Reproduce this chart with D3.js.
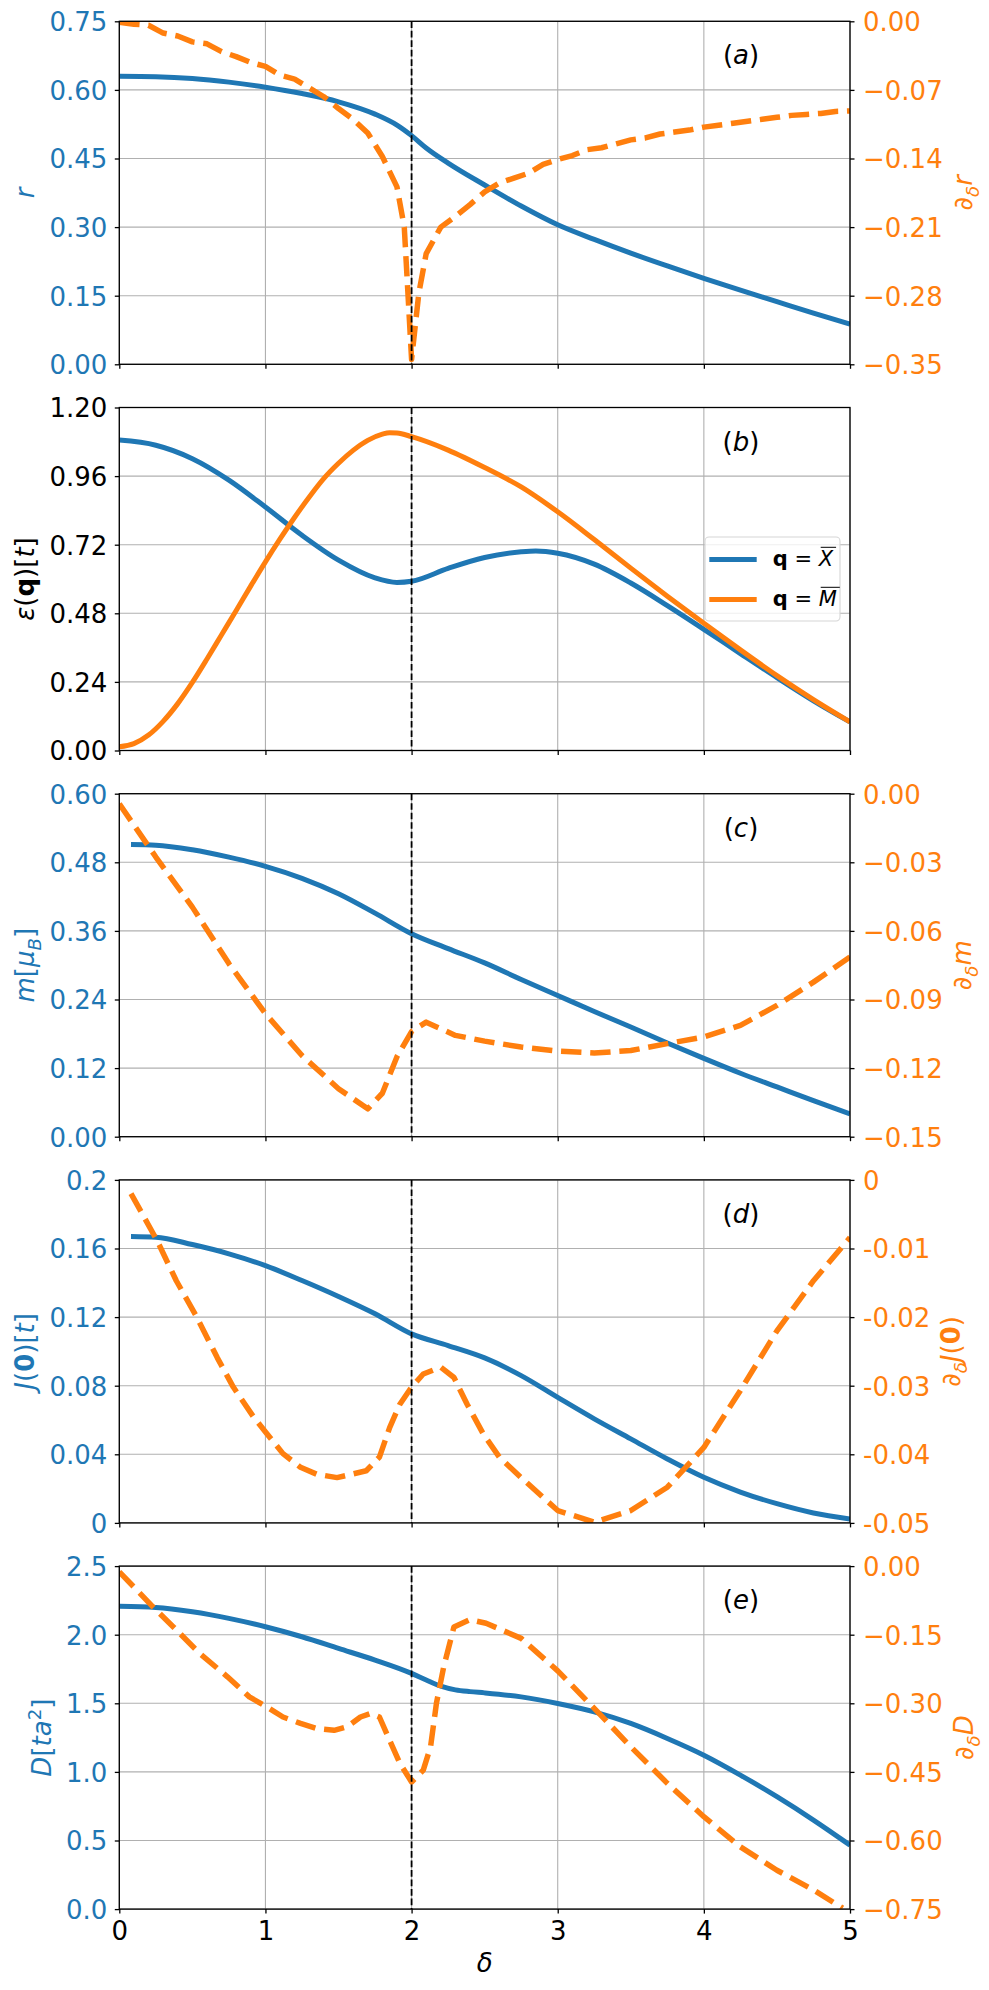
<!DOCTYPE html>
<html>
<head>
<meta charset="utf-8">
<script src="https://cdn.jsdelivr.net/npm/d3@7"></script>
<style>
body { margin: 0; background: #fff; }
text { font-family: "DejaVu Sans", sans-serif; }
</style>
</head>
<body>
<script>
// ---- data ----
// (a) r and its derivative
const deltaR  = [0, 0.25, 0.5, 0.75, 1, 1.25, 1.5, 1.75, 1.9, 2, 2.1, 2.25, 2.5, 2.75, 3, 3.25, 3.5, 3.75, 4, 4.25, 4.5, 4.75, 5];
const rVal    = [0.630, 0.629, 0.625, 0.617, 0.606, 0.592, 0.574, 0.547, 0.523, 0.500, 0.473, 0.440, 0.392, 0.346, 0.305, 0.273, 0.243, 0.215, 0.188, 0.162, 0.137, 0.112, 0.088];
const deltaDR = [0, 0.1, 0.2, 0.3, 0.4, 0.5, 0.6, 0.7, 0.8, 0.9, 1, 1.1, 1.2, 1.3, 1.4, 1.5, 1.6, 1.7, 1.8, 1.9, 1.95, 2, 2.05, 2.1, 2.2, 2.3, 2.4, 2.5, 2.6, 2.7, 2.8, 2.9, 3, 3.1, 3.2, 3.3, 3.4, 3.5, 3.6, 3.7, 3.8, 3.9, 4, 4.1, 4.2, 4.3, 4.4, 4.5, 4.6, 4.7, 4.8, 4.9, 5];
const drVal   = [-0.001, -0.003, -0.004, -0.012, -0.015, -0.021, -0.023, -0.031, -0.036, -0.042, -0.046, -0.055, -0.059, -0.068, -0.077, -0.089, -0.100, -0.114, -0.138, -0.169, -0.210, -0.345, -0.277, -0.237, -0.210, -0.199, -0.187, -0.174, -0.165, -0.160, -0.155, -0.146, -0.141, -0.137, -0.131, -0.129, -0.125, -0.121, -0.119, -0.115, -0.113, -0.111, -0.108, -0.106, -0.104, -0.102, -0.100, -0.098, -0.096, -0.095, -0.094, -0.092, -0.0915];

// (b) eps(q) at X and M
const deltaEX = [0, 0.25, 0.5, 0.75, 1, 1.25, 1.5, 1.75, 1.9, 2, 2.25, 2.5, 2.75, 2.85, 3, 3.25, 3.5, 3.75, 4, 4.25, 4.5, 4.75, 5];
const epsX    = [1.086, 1.068, 1.021, 0.946, 0.852, 0.753, 0.666, 0.604, 0.588, 0.592, 0.637, 0.675, 0.695, 0.698, 0.690, 0.652, 0.586, 0.507, 0.424, 0.339, 0.255, 0.174, 0.100];
const deltaEM = [0, 0.1, 0.2, 0.3, 0.4, 0.5, 0.6, 0.7, 0.8, 0.9, 1, 1.1, 1.2, 1.3, 1.4, 1.5, 1.6, 1.7, 1.8, 1.85, 1.9, 2, 2.25, 2.5, 2.75, 3, 3.25, 3.5, 3.75, 4, 4.25, 4.5, 4.75, 5];
const epsM    = [0.013, 0.024, 0.054, 0.102, 0.164, 0.238, 0.320, 0.405, 0.490, 0.576, 0.660, 0.740, 0.816, 0.887, 0.952, 1.005, 1.050, 1.085, 1.107, 1.112, 1.111, 1.098, 1.051, 0.990, 0.922, 0.835, 0.738, 0.638, 0.540, 0.445, 0.352, 0.262, 0.178, 0.100];

// (c) m and its derivative
const deltaM  = [0.08, 0.25, 0.5, 0.75, 1, 1.25, 1.5, 1.75, 2, 2.25, 2.5, 2.75, 3, 3.25, 3.5, 3.75, 4, 4.25, 4.5, 4.75, 5];
const mVal    = [0.511, 0.510, 0.502, 0.489, 0.473, 0.452, 0.425, 0.391, 0.355, 0.329, 0.304, 0.275, 0.247, 0.219, 0.192, 0.164, 0.137, 0.111, 0.087, 0.063, 0.040];
const deltaDM = [0, 0.25, 0.5, 0.75, 1, 1.25, 1.5, 1.7, 1.8, 1.9, 2, 2.1, 2.3, 2.5, 2.75, 3, 3.25, 3.5, 3.75, 4, 4.25, 4.5, 4.75, 5];
const dmVal   = [-0.0044, -0.0277, -0.0496, -0.0743, -0.0962, -0.1145, -0.1290, -0.1378, -0.1310, -0.1150, -0.1040, -0.0999, -0.1057, -0.1082, -0.1108, -0.1126, -0.1134, -0.1123, -0.1093, -0.1064, -0.1013, -0.0926, -0.0824, -0.0714];

// (d) J(0) and its derivative
const deltaJ  = [0.08, 0.25, 0.5, 0.75, 1, 1.25, 1.5, 1.75, 2, 2.25, 2.5, 2.75, 3, 3.25, 3.5, 3.75, 4, 4.25, 4.5, 4.75, 5];
const jVal    = [0.167, 0.1666, 0.1623, 0.1569, 0.150, 0.1413, 0.132, 0.1219, 0.1102, 0.1034, 0.0962, 0.0859, 0.0732, 0.0607, 0.049, 0.0373, 0.0266, 0.0180, 0.0112, 0.0058, 0.0023];
const deltaDJ = [0.08, 0.26, 0.39, 0.53, 0.67, 0.78, 0.92, 1.01, 1.12, 1.24, 1.35, 1.49, 1.69, 1.78, 1.85, 1.92, 2, 2.08, 2.2, 2.29, 2.38, 2.49, 2.6, 2.75, 3, 3.25, 3.5, 3.75, 4, 4.25, 4.5, 4.75, 5];
const djVal   = [-0.0020, -0.0089, -0.0147, -0.0200, -0.0259, -0.0302, -0.0346, -0.0370, -0.0399, -0.0419, -0.0429, -0.0434, -0.0424, -0.0404, -0.0361, -0.0327, -0.0302, -0.0283, -0.0273, -0.0288, -0.0327, -0.0370, -0.0404, -0.0434, -0.0482, -0.0499, -0.0482, -0.0448, -0.0390, -0.0307, -0.0220, -0.0147, -0.0084];

// (e) D and its derivative
const deltaD  = [0, 0.25, 0.5, 0.75, 1, 1.25, 1.5, 1.75, 2, 2.1, 2.2, 2.3, 2.4, 2.5, 2.75, 3, 3.25, 3.5, 3.75, 4, 4.25, 4.5, 4.75, 5];
const dVal    = [2.208, 2.199, 2.167, 2.119, 2.058, 1.985, 1.900, 1.815, 1.718, 1.670, 1.625, 1.598, 1.585, 1.576, 1.547, 1.499, 1.438, 1.353, 1.244, 1.122, 0.977, 0.819, 0.649, 0.466];
const deltaDD = [0, 0.23, 0.37, 0.55, 0.74, 0.89, 1.01, 1.12, 1.24, 1.35, 1.47, 1.56, 1.65, 1.72, 1.78, 1.85, 1.92, 2, 2.08, 2.13, 2.17, 2.22, 2.29, 2.4, 2.51, 2.75, 3, 3.25, 3.5, 3.75, 4, 4.25, 4.5, 4.75, 4.95];
const ddVal   = [-0.0125, -0.089, -0.133, -0.191, -0.242, -0.286, -0.308, -0.330, -0.344, -0.355, -0.359, -0.351, -0.330, -0.322, -0.330, -0.381, -0.431, -0.472, -0.446, -0.395, -0.300, -0.220, -0.133, -0.117, -0.125, -0.158, -0.229, -0.311, -0.395, -0.475, -0.548, -0.614, -0.665, -0.708, -0.748];

// tick values / labels
const xTicks   = [0, 1, 2, 3, 4, 5];
const ticksAL  = [0, 0.15, 0.30, 0.45, 0.60, 0.75];
const ticksAR  = [0, -0.07, -0.14, -0.21, -0.28, -0.35];
const ticksBL  = [0, 0.24, 0.48, 0.72, 0.96, 1.20];
const ticksCL  = [0, 0.12, 0.24, 0.36, 0.48, 0.60];
const ticksCR  = [0, -0.03, -0.06, -0.09, -0.12, -0.15];
const ticksDL  = [0, 0.04, 0.08, 0.12, 0.16, 0.2];
const labelsDL = ["0", "0.04", "0.08", "0.12", "0.16", "0.2"];
const ticksDR  = [0, -0.01, -0.02, -0.03, -0.04, -0.05];
const labelsDR = ["0", "-0.01", "-0.02", "-0.03", "-0.04", "-0.05"];
const ticksEL  = [0, 0.5, 1.0, 1.5, 2.0, 2.5];
const ticksER  = [0, -0.15, -0.30, -0.45, -0.60, -0.75];
const legendLabels = ["X", "M"];

// ---- layout ----
const W = 989, H = 1990;
const left = 119.3, right = 850;
const top0 = 21.3, pitch = 386.2, panelH = 343;
const blue = "#1f77b4", orange = "#ff7f0e";
const fs = 26;

const svg = d3.select("body").append("svg")
  .attr("width", W).attr("height", H);

const x = d3.scaleLinear().domain([0, 5]).range([left, right]);

const f2 = d3.format(".2f"), f1 = d3.format(".1f");

const panels = [
  { tag: "a", lDom: [0, 0.75], lTicks: ticksAL, lFmt: f2, lColor: blue,
    rDom: [-0.35, 0], rTicks: ticksAR, rFmt: f2,
    lines: [{ xs: deltaR, ys: rVal, side: "l", color: blue }, { xs: deltaDR, ys: drVal, side: "r", color: orange, dash: true }],
    lLabel: [{ t: "r", i: 1 }], lLabelX: 34,
    rLabel: [{ t: "∂" }, { t: "δ", i: 1, sub: 1 }, { t: "r", i: 1 }], rLabelX: 972 },
  { tag: "b", lDom: [0, 1.2], lTicks: ticksBL, lFmt: f2, lColor: "#000",
    lines: [{ xs: deltaEX, ys: epsX, side: "l", color: blue }, { xs: deltaEM, ys: epsM, side: "l", color: orange }],
    lLabel: [{ t: "ε", i: 1 }, { t: "(" }, { t: "q", b: 1 }, { t: ")[" }, { t: "t", i: 1 }, { t: "]" }], lLabelX: 34,
    legend: true },
  { tag: "c", lDom: [0, 0.6], lTicks: ticksCL, lFmt: f2, lColor: blue,
    rDom: [-0.15, 0], rTicks: ticksCR, rFmt: f2,
    lines: [{ xs: deltaM, ys: mVal, side: "l", color: blue }, { xs: deltaDM, ys: dmVal, side: "r", color: orange, dash: true }],
    lLabel: [{ t: "m", i: 1 }, { t: "[" }, { t: "μ", i: 1 }, { t: "B", i: 1, sub: 1 }, { t: "]" }], lLabelX: 34,
    rLabel: [{ t: "∂" }, { t: "δ", i: 1, sub: 1 }, { t: "m", i: 1 }], rLabelX: 971 },
  { tag: "d", lDom: [0, 0.2], lTicks: ticksDL, lFmt: (d, i) => labelsDL[i], lColor: blue,
    rDom: [-0.05, 0], rTicks: ticksDR, rFmt: (d, i) => labelsDR[i],
    lines: [{ xs: deltaJ, ys: jVal, side: "l", color: blue }, { xs: deltaDJ, ys: djVal, side: "r", color: orange, dash: true }],
    lLabel: [{ t: "J", i: 1 }, { t: "(" }, { t: "0", b: 1 }, { t: ")[" }, { t: "t", i: 1 }, { t: "]" }], lLabelX: 34,
    rLabel: [{ t: "∂" }, { t: "δ", i: 1, sub: 1 }, { t: "J", i: 1 }, { t: "(" }, { t: "0", b: 1 }, { t: ")" }], rLabelX: 960 },
  { tag: "e", lDom: [0, 2.5], lTicks: ticksEL, lFmt: f1, lColor: blue,
    rDom: [-0.75, 0], rTicks: ticksER, rFmt: f2,
    lines: [{ xs: deltaD, ys: dVal, side: "l", color: blue }, { xs: deltaDD, ys: ddVal, side: "r", color: orange, dash: true }],
    lLabel: [{ t: "D", i: 1 }, { t: "[" }, { t: "ta", i: 1 }, { t: "2", sup: 1 }, { t: "]" }], lLabelX: 51,
    rLabel: [{ t: "∂" }, { t: "δ", i: 1, sub: 1 }, { t: "D", i: 1 }], rLabelX: 973 }
];

// mathtext-ish label from parts
function mathText(sel, parts, size) {
  let shift = 0;
  parts.forEach(p => {
    const t = sel.append("tspan").text(p.t);
    if (p.i) t.attr("font-style", "italic");
    if (p.b) t.attr("font-weight", "bold");
    let target = 0, s = size;
    if (p.sub) { target = 0.25 * size; s = 0.7 * size; }
    if (p.sup) { target = -0.38 * size; s = 0.7 * size; }
    t.attr("font-size", s);
    if (target !== shift) { t.attr("dy", target - shift); shift = target; }
  });
}

function styleAxis(g, color) {
  g.select(".domain").remove();
  g.selectAll(".tick line").attr("stroke", "#000").attr("stroke-width", 1.3);
  g.selectAll(".tick text").attr("fill", color).attr("font-size", fs)
    .attr("font-family", "DejaVu Sans");
}

panels.forEach((p, i) => {
  const top = top0 + i * pitch, bottom = top + panelH;
  const g = svg.append("g");
  const yL = d3.scaleLinear().domain(p.lDom).range([bottom, top]);
  const yR = p.rDom ? d3.scaleLinear().domain(p.rDom).range([bottom, top]) : null;

  const clipId = "clip" + p.tag;
  svg.append("clipPath").attr("id", clipId).append("rect")
    .attr("x", left).attr("y", top).attr("width", right - left).attr("height", panelH);

  // grid
  g.append("g").selectAll("line").data(xTicks).join("line")
    .attr("x1", d => x(d)).attr("x2", d => x(d)).attr("y1", top).attr("y2", bottom)
    .attr("stroke", "#b0b0b0").attr("stroke-width", 1.1);
  g.append("g").selectAll("line").data(p.lTicks).join("line")
    .attr("x1", left).attr("x2", right).attr("y1", d => yL(d)).attr("y2", d => yL(d))
    .attr("stroke", "#b0b0b0").attr("stroke-width", 1.1);

  // curves
  const plot = g.append("g").attr("clip-path", `url(#${clipId})`);
  p.lines.forEach(s => {
    const ys = s.side === "l" ? yL : yR;
    const pts = s.xs.map((d, k) => [d, s.ys[k]]);
    const line = d3.line().x(d => x(d[0])).y(d => ys(d[1]))
      .curve(s.dash ? d3.curveLinear : d3.curveMonotoneX);
    plot.append("path").attr("d", line(pts))
      .attr("fill", "none").attr("stroke", s.color)
      .attr("stroke-width", s.dash ? 5.5 : 5)
      .attr("stroke-dasharray", s.dash ? "20.4,8.8" : null)
      .attr("stroke-linejoin", "round");
  });

  // vertical marker at delta = 2
  g.append("line").attr("x1", x(2)).attr("x2", x(2)).attr("y1", top).attr("y2", bottom)
    .attr("stroke", "#000").attr("stroke-width", 1.8).attr("stroke-dasharray", "6.6,2.9");

  // frame
  g.append("rect").attr("x", left).attr("y", top).attr("width", right - left).attr("height", panelH)
    .attr("fill", "none").attr("stroke", "#000").attr("stroke-width", 1.3);

  // axes
  const ax = g.append("g").attr("transform", `translate(${left},0)`)
    .call(d3.axisLeft(yL).tickValues(p.lTicks).tickFormat(p.lFmt).tickSize(4.5).tickPadding(7.5));
  styleAxis(ax, p.lColor);
  ax.selectAll(".tick text").attr("dy", "0.36em");

  if (yR) {
    const axr = g.append("g").attr("transform", `translate(${right},0)`)
      .call(d3.axisRight(yR).tickValues(p.rTicks).tickFormat(p.rFmt).tickSize(4.5).tickPadding(8.5));
    styleAxis(axr, orange);
    axr.selectAll(".tick text").attr("dy", "0.36em");
  }

  const last = i === panels.length - 1;
  const axb = g.append("g").attr("transform", `translate(0,${bottom})`)
    .call(d3.axisBottom(x).tickValues(xTicks).tickFormat(last ? d3.format("d") : () => "").tickSize(4.5).tickPadding(8.2));
  styleAxis(axb, "#000");

  // axis labels
  const ll = g.append("text").attr("text-anchor", "middle").attr("fill", p.lColor)
    .attr("transform", `translate(${p.lLabelX},${top + panelH / 2}) rotate(-90)`);
  mathText(ll, p.lLabel, fs);
  if (p.rLabel) {
    const rl = g.append("text").attr("text-anchor", "middle").attr("fill", orange)
      .attr("transform", `translate(${p.rLabelX},${top + panelH / 2}) rotate(-90)`);
    mathText(rl, p.rLabel, fs);
  }

  // panel tag
  const tg = g.append("text").attr("x", 741).attr("y", top + 43).attr("text-anchor", "middle")
    .attr("font-size", fs).attr("fill", "#000");
  mathText(tg, [{ t: "(" }, { t: p.tag, i: 1 }, { t: ")" }], fs);

  // legend
  if (p.legend) {
    const lg = g.append("g");
    lg.append("rect").attr("x", 705).attr("y", top + 129.5).attr("width", 135).attr("height", 84)
      .attr("rx", 4).attr("fill", "#fff").attr("fill-opacity", 0.8)
      .attr("stroke", "#d6d6d6").attr("stroke-width", 1.1);
    [blue, orange].forEach((c, k) => {
      const cy = top + 152 + k * 40;
      lg.append("line").attr("x1", 709.3).attr("x2", 756.7).attr("y1", cy).attr("y2", cy)
        .attr("stroke", c).attr("stroke-width", 5);
      const t = lg.append("text").attr("x", 772.7).attr("y", cy + 6.8).attr("font-size", 21).attr("fill", "#000");
      mathText(t, [{ t: "q", b: 1 }, { t: " = " }, { t: legendLabels[k], i: 1 }], 21);
      const n = t.node();
      const ext = n.getExtentOfChar(n.getNumberOfChars() - 1);
      lg.append("line").attr("x1", ext.x + 2).attr("x2", ext.x + ext.width + 3)
        .attr("y1", cy + 6.8 - 19).attr("y2", cy + 6.8 - 19)
        .attr("stroke", "#000").attr("stroke-width", 1);
    });
  }
});

// x label
svg.append("text").attr("x", (left + right) / 2).attr("y", 1972).attr("text-anchor", "middle")
  .attr("font-size", fs).attr("font-style", "italic").text("δ");
</script>
</body>
</html>
